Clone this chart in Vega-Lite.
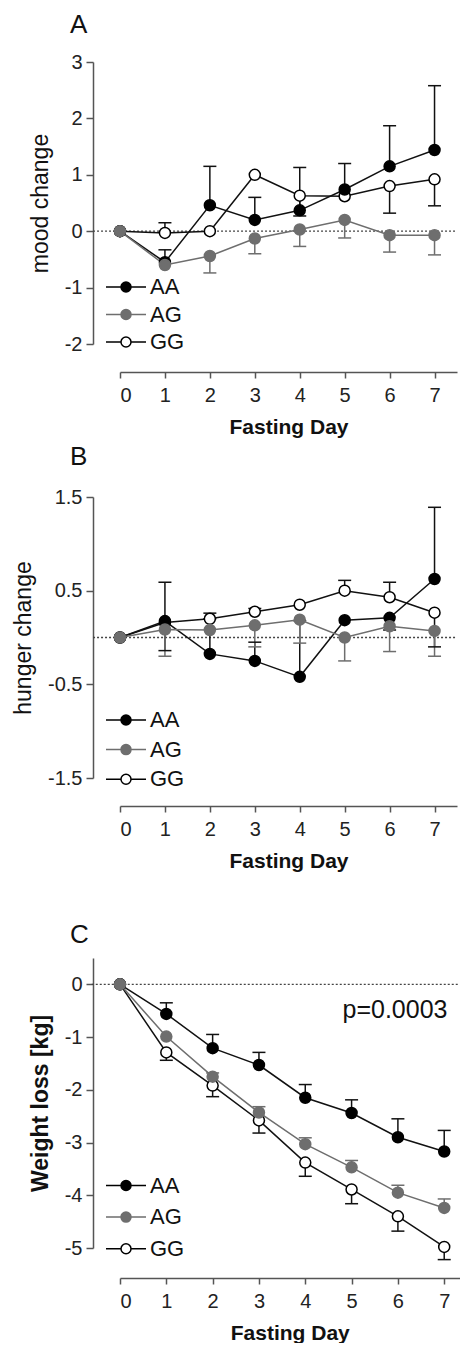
{
"$schema": "https://vega.github.io/schema/vega-lite/v6.json",
"padding": {"left": 12, "top": 12, "right": 0, "bottom": 0},
"spacing": 7,
"config": {
  "font": "Liberation Sans",
  "view": {"stroke": null},
  "axis": {"grid": false, "domainColor": "#555", "tickColor": "#555", "domainWidth": 1.5, "tickWidth": 1.5, "labelColor": "#222", "titleColor": "#111", "labelFontSize": 20, "titleFontSize": 21, "labelFontWeight": "normal"},
  "axisY": {"offset": 27, "tickSize": 7, "labelPadding": 4, "titlePadding": 12, "titleFontSize": 23, "labelExpr": "replace(format(datum.value, '.1~f'), '\u2212', '-')"},
  "axisX": {"tickSize": 6, "labelPadding": 7, "titlePadding": 11, "titleFontWeight": "bold"},
  "title": {"fontSize": 26, "fontWeight": "normal", "anchor": "start", "frame": "group", "dx": -50, "color": "#111"}
},
"resolve": {"scale": {"fill": "independent", "stroke": "independent", "color": "independent", "x": "independent", "y": "independent"}},
"datasets": {
  "pts": [
    {"panel":"A","g":"GG","day":0,"v":0},{"panel":"A","g":"GG","day":1,"v":-0.03},{"panel":"A","g":"GG","day":2,"v":0},{"panel":"A","g":"GG","day":3,"v":1.0},{"panel":"A","g":"GG","day":4,"v":0.63},{"panel":"A","g":"GG","day":5,"v":0.62},{"panel":"A","g":"GG","day":6,"v":0.8},{"panel":"A","g":"GG","day":7,"v":0.92},
    {"panel":"A","g":"AA","day":0,"v":0},{"panel":"A","g":"AA","day":1,"v":-0.55},{"panel":"A","g":"AA","day":2,"v":0.46},{"panel":"A","g":"AA","day":3,"v":0.2},{"panel":"A","g":"AA","day":4,"v":0.37},{"panel":"A","g":"AA","day":5,"v":0.74},{"panel":"A","g":"AA","day":6,"v":1.15},{"panel":"A","g":"AA","day":7,"v":1.44},
    {"panel":"A","g":"AG","day":0,"v":0},{"panel":"A","g":"AG","day":1,"v":-0.6},{"panel":"A","g":"AG","day":2,"v":-0.44},{"panel":"A","g":"AG","day":3,"v":-0.13},{"panel":"A","g":"AG","day":4,"v":0.03},{"panel":"A","g":"AG","day":5,"v":0.2},{"panel":"A","g":"AG","day":6,"v":-0.07},{"panel":"A","g":"AG","day":7,"v":-0.07},
    {"panel":"B","g":"GG","day":0,"v":0},{"panel":"B","g":"GG","day":1,"v":0.16},{"panel":"B","g":"GG","day":2,"v":0.2},{"panel":"B","g":"GG","day":3,"v":0.275},{"panel":"B","g":"GG","day":4,"v":0.35},{"panel":"B","g":"GG","day":5,"v":0.5},{"panel":"B","g":"GG","day":6,"v":0.43},{"panel":"B","g":"GG","day":7,"v":0.265},
    {"panel":"B","g":"AA","day":0,"v":0},{"panel":"B","g":"AA","day":1,"v":0.175},{"panel":"B","g":"AA","day":2,"v":-0.175},{"panel":"B","g":"AA","day":3,"v":-0.25},{"panel":"B","g":"AA","day":4,"v":-0.42},{"panel":"B","g":"AA","day":5,"v":0.185},{"panel":"B","g":"AA","day":6,"v":0.21},{"panel":"B","g":"AA","day":7,"v":0.625},
    {"panel":"B","g":"AG","day":0,"v":0},{"panel":"B","g":"AG","day":1,"v":0.085},{"panel":"B","g":"AG","day":2,"v":0.08},{"panel":"B","g":"AG","day":3,"v":0.13},{"panel":"B","g":"AG","day":4,"v":0.19},{"panel":"B","g":"AG","day":5,"v":0},{"panel":"B","g":"AG","day":6,"v":0.12},{"panel":"B","g":"AG","day":7,"v":0.07},
    {"panel":"C","g":"GG","day":0,"v":0},{"panel":"C","g":"GG","day":1,"v":-1.29},{"panel":"C","g":"GG","day":2,"v":-1.92},{"panel":"C","g":"GG","day":3,"v":-2.58},{"panel":"C","g":"GG","day":4,"v":-3.38},{"panel":"C","g":"GG","day":5,"v":-3.89},{"panel":"C","g":"GG","day":6,"v":-4.4},{"panel":"C","g":"GG","day":7,"v":-4.98},
    {"panel":"C","g":"AA","day":0,"v":0},{"panel":"C","g":"AA","day":1,"v":-0.56},{"panel":"C","g":"AA","day":2,"v":-1.21},{"panel":"C","g":"AA","day":3,"v":-1.53},{"panel":"C","g":"AA","day":4,"v":-2.15},{"panel":"C","g":"AA","day":5,"v":-2.44},{"panel":"C","g":"AA","day":6,"v":-2.9},{"panel":"C","g":"AA","day":7,"v":-3.17},
    {"panel":"C","g":"AG","day":0,"v":0},{"panel":"C","g":"AG","day":1,"v":-0.99},{"panel":"C","g":"AG","day":2,"v":-1.75},{"panel":"C","g":"AG","day":3,"v":-2.43},{"panel":"C","g":"AG","day":4,"v":-3.03},{"panel":"C","g":"AG","day":5,"v":-3.47},{"panel":"C","g":"AG","day":6,"v":-3.95},{"panel":"C","g":"AG","day":7,"v":-4.24}
  ],
  "err": [
    {"panel":"A","g":"AA","day":1,"v":-0.55,"e":-0.33},{"panel":"A","g":"AA","day":2,"v":0.46,"e":1.15},{"panel":"A","g":"AA","day":3,"v":0.2,"e":0.6},{"panel":"A","g":"AA","day":4,"v":0.37,"e":1.13},{"panel":"A","g":"AA","day":5,"v":0.74,"e":1.2},{"panel":"A","g":"AA","day":6,"v":1.15,"e":1.87},{"panel":"A","g":"AA","day":7,"v":1.44,"e":2.58},
    {"panel":"A","g":"GG","day":1,"v":-0.03,"e":0.15},{"panel":"A","g":"GG","day":4,"v":0.63,"e":0.27},{"panel":"A","g":"GG","day":6,"v":0.8,"e":0.32},{"panel":"A","g":"GG","day":7,"v":0.92,"e":0.45},
    {"panel":"A","g":"AG","day":2,"v":-0.44,"e":-0.74},{"panel":"A","g":"AG","day":3,"v":-0.13,"e":-0.4},{"panel":"A","g":"AG","day":4,"v":0.03,"e":-0.27},{"panel":"A","g":"AG","day":5,"v":0.2,"e":-0.12},{"panel":"A","g":"AG","day":6,"v":-0.07,"e":-0.37},{"panel":"A","g":"AG","day":7,"v":-0.07,"e":-0.42},
    {"panel":"B","g":"AA","day":1,"v":0.175,"e":0.59},{"panel":"B","g":"AA","day":2,"v":-0.175,"e":0.2},{"panel":"B","g":"AA","day":3,"v":-0.25,"e":-0.05},{"panel":"B","g":"AA","day":4,"v":-0.42,"e":0.18},{"panel":"B","g":"AA","day":6,"v":0.21,"e":0.08},{"panel":"B","g":"AA","day":7,"v":0.625,"e":1.39},
    {"panel":"B","g":"GG","day":1,"v":0.16,"e":-0.14},{"panel":"B","g":"GG","day":2,"v":0.2,"e":0.26},{"panel":"B","g":"GG","day":3,"v":0.275,"e":0.31},{"panel":"B","g":"GG","day":5,"v":0.5,"e":0.61},{"panel":"B","g":"GG","day":6,"v":0.43,"e":0.59},{"panel":"B","g":"GG","day":7,"v":0.265,"e":-0.1},
    {"panel":"B","g":"AG","day":1,"v":0.085,"e":-0.2},{"panel":"B","g":"AG","day":3,"v":0.13,"e":-0.1},{"panel":"B","g":"AG","day":4,"v":0.19,"e":-0.06},{"panel":"B","g":"AG","day":5,"v":0,"e":-0.25},{"panel":"B","g":"AG","day":6,"v":0.12,"e":-0.15},{"panel":"B","g":"AG","day":7,"v":0.07,"e":-0.2},
    {"panel":"C","g":"AA","day":1,"v":-0.56,"e":-0.35},{"panel":"C","g":"AA","day":2,"v":-1.21,"e":-0.95},{"panel":"C","g":"AA","day":3,"v":-1.53,"e":-1.29},{"panel":"C","g":"AA","day":4,"v":-2.15,"e":-1.9},{"panel":"C","g":"AA","day":5,"v":-2.44,"e":-2.19},{"panel":"C","g":"AA","day":6,"v":-2.9,"e":-2.55},{"panel":"C","g":"AA","day":7,"v":-3.17,"e":-2.77},
    {"panel":"C","g":"AG","day":2,"v":-1.75,"e":-1.68},{"panel":"C","g":"AG","day":3,"v":-2.43,"e":-2.32},{"panel":"C","g":"AG","day":4,"v":-3.03,"e":-2.91},{"panel":"C","g":"AG","day":5,"v":-3.47,"e":-3.34},{"panel":"C","g":"AG","day":6,"v":-3.95,"e":-3.81},{"panel":"C","g":"AG","day":7,"v":-4.24,"e":-4.07},
    {"panel":"C","g":"GG","day":1,"v":-1.29,"e":-1.44},{"panel":"C","g":"GG","day":2,"v":-1.92,"e":-2.13},{"panel":"C","g":"GG","day":3,"v":-2.58,"e":-2.82},{"panel":"C","g":"GG","day":4,"v":-3.38,"e":-3.64},{"panel":"C","g":"GG","day":5,"v":-3.89,"e":-4.16},{"panel":"C","g":"GG","day":6,"v":-4.4,"e":-4.68},{"panel":"C","g":"GG","day":7,"v":-4.98,"e":-5.22}
  ],
  "zero": [
    {"panel":"A","day":-0.6,"day2":7.5,"v":0},
    {"panel":"B","day":-0.6,"day2":7.5,"v":0},
    {"panel":"C","day":-0.61,"day2":7.33,"v":0}
  ],
  "ptxt": [
    {"panel":"C","day":7.07,"v":-0.64,"label":"p=0.0003"}
  ]
},
"vconcat": [
  {
    "width": 337, "height": 282,
    "title": {"text": "A", "offset": 14},
    "encoding": {
      "x": {"field": "day", "type": "quantitative", "scale": {"domain": [0, 7.5], "nice": false, "zero": false}, "axis": {"title": "Fasting Day", "values": [0,1,2,3,4,5,6,7], "offset": 28}},
      "y": {"field": "v", "type": "quantitative", "scale": {"domain": [-2, 3], "nice": false}, "axis": {"title": "mood change", "values": [-2,-1,0,1,2,3], "titleFontWeight": "normal"}}
    },
    "layer": [
      {"data": {"name": "zero"}, "transform": [{"filter": "datum.panel === 'A'"}], "mark": {"type": "rule", "strokeDash": [2, 2], "color": "#444", "strokeWidth": 1.3}, "encoding": {"x2": {"field": "day2"}}},
      {"data": {"name": "err"}, "transform": [{"filter": "datum.panel === 'A'"}], "mark": {"type": "rule", "strokeWidth": 1.5}, "encoding": {"y2": {"field": "e"}, "color": {"field": "g", "type": "nominal", "scale": {"domain": ["GG","AG","AA"], "range": ["#111","#6e6e6e","#111"]}, "legend": null}}},
      {"data": {"name": "err"}, "transform": [{"filter": "datum.panel === 'A'"}], "mark": {"type": "tick", "orient": "horizontal", "size": 13, "thickness": 1.5, "opacity": 1}, "encoding": {"y": {"field": "e", "type": "quantitative", "scale": {"domain": [-2, 3], "nice": false}, "axis": {"title": "mood change", "values": [-2,-1,0,1,2,3], "titleFontWeight": "normal"}}, "color": {"field": "g", "type": "nominal", "scale": {"domain": ["GG","AG","AA"], "range": ["#111","#6e6e6e","#111"]}, "legend": null}}},
      {"data": {"name": "pts"}, "transform": [{"filter": "datum.panel === 'A'"}], "mark": {"type": "line", "strokeWidth": 1.5}, "encoding": {"color": {"field": "g", "type": "nominal", "scale": {"domain": ["GG","AG","AA"], "range": ["#111","#6e6e6e","#111"]}, "legend": null}}},
      {"data": {"name": "pts"}, "transform": [{"filter": "datum.panel === 'A'"}], "mark": {"type": "point", "filled": true, "size": 121, "strokeWidth": 1.5, "opacity": 1},
       "encoding": {
         "fill": {"field": "g", "type": "nominal", "scale": {"domain": ["AA","AG","GG"], "range": ["#000","#6e6e6e","#fff"]}, "legend": {"title": null, "orient": "none", "legendX": -5, "legendY": 214, "rowPadding": 5.5, "labelFontSize": 22, "labelColor": "#111", "labelOffset": 13, "symbolSize": 100, "symbolStrokeWidth": 1.5, "symbolType": "M-4,0L-1,0M1,0L4,0M-1,0C-1,-0.552,-0.552,-1,0,-1C0.552,-1,1,-0.552,1,0C1,0.552,0.552,1,0,1C-0.552,1,-1,0.552,-1,0Z"}},
         "stroke": {"field": "g", "type": "nominal", "scale": {"domain": ["AA","AG","GG"], "range": ["#000","#6e6e6e","#000"]}, "legend": {"title": null, "orient": "none", "legendX": -5, "legendY": 214, "rowPadding": 5.5, "labelFontSize": 22, "labelColor": "#111", "labelOffset": 13, "symbolSize": 100, "symbolStrokeWidth": 1.5, "symbolType": "M-4,0L-1,0M1,0L4,0M-1,0C-1,-0.552,-0.552,-1,0,-1C0.552,-1,1,-0.552,1,0C1,0.552,0.552,1,0,1C-0.552,1,-1,0.552,-1,0Z"}}
       }}
    ]
  },
  {
    "width": 337, "height": 281,
    "title": {"text": "B", "offset": 17},
    "encoding": {
      "x": {"field": "day", "type": "quantitative", "scale": {"domain": [0, 7.5], "nice": false, "zero": false}, "axis": {"title": ["Fasting Day", ""], "titleLineHeight": 44, "values": [0,1,2,3,4,5,6,7], "offset": 28}},
      "y": {"field": "v", "type": "quantitative", "scale": {"domain": [-1.5, 1.5], "nice": false}, "axis": {"title": "hunger change", "values": [-1.5,-0.5,0.5,1.5], "titleFontWeight": "normal"}}
    },
    "layer": [
      {"data": {"name": "zero"}, "transform": [{"filter": "datum.panel === 'B'"}], "mark": {"type": "rule", "strokeDash": [2, 2], "color": "#444", "strokeWidth": 1.3}, "encoding": {"x2": {"field": "day2"}}},
      {"data": {"name": "err"}, "transform": [{"filter": "datum.panel === 'B'"}], "mark": {"type": "rule", "strokeWidth": 1.5}, "encoding": {"y2": {"field": "e"}, "color": {"field": "g", "type": "nominal", "scale": {"domain": ["GG","AG","AA"], "range": ["#111","#6e6e6e","#111"]}, "legend": null}}},
      {"data": {"name": "err"}, "transform": [{"filter": "datum.panel === 'B'"}], "mark": {"type": "tick", "orient": "horizontal", "size": 13, "thickness": 1.5, "opacity": 1}, "encoding": {"y": {"field": "e", "type": "quantitative", "scale": {"domain": [-1.5, 1.5], "nice": false}, "axis": {"title": "hunger change", "values": [-1.5,-0.5,0.5,1.5], "titleFontWeight": "normal"}}, "color": {"field": "g", "type": "nominal", "scale": {"domain": ["GG","AG","AA"], "range": ["#111","#6e6e6e","#111"]}, "legend": null}}},
      {"data": {"name": "pts"}, "transform": [{"filter": "datum.panel === 'B'"}], "mark": {"type": "line", "strokeWidth": 1.5}, "encoding": {"color": {"field": "g", "type": "nominal", "scale": {"domain": ["GG","AG","AA"], "range": ["#111","#6e6e6e","#111"]}, "legend": null}}},
      {"data": {"name": "pts"}, "transform": [{"filter": "datum.panel === 'B'"}], "mark": {"type": "point", "filled": true, "size": 121, "strokeWidth": 1.5, "opacity": 1},
       "encoding": {
         "fill": {"field": "g", "type": "nominal", "scale": {"domain": ["AA","AG","GG"], "range": ["#000","#6e6e6e","#fff"]}, "legend": {"title": null, "orient": "none", "legendX": -5, "legendY": 212, "rowPadding": 7.6, "labelFontSize": 22, "labelColor": "#111", "labelOffset": 13, "symbolSize": 100, "symbolStrokeWidth": 1.5, "symbolType": "M-4,0L-1,0M1,0L4,0M-1,0C-1,-0.552,-0.552,-1,0,-1C0.552,-1,1,-0.552,1,0C1,0.552,0.552,1,0,1C-0.552,1,-1,0.552,-1,0Z"}},
         "stroke": {"field": "g", "type": "nominal", "scale": {"domain": ["AA","AG","GG"], "range": ["#000","#6e6e6e","#000"]}, "legend": {"title": null, "orient": "none", "legendX": -5, "legendY": 212, "rowPadding": 7.6, "labelFontSize": 22, "labelColor": "#111", "labelOffset": 13, "symbolSize": 100, "symbolStrokeWidth": 1.5, "symbolType": "M-4,0L-1,0M1,0L4,0M-1,0C-1,-0.552,-0.552,-1,0,-1C0.552,-1,1,-0.552,1,0C1,0.552,0.552,1,0,1C-0.552,1,-1,0.552,-1,0Z"}}
       }}
    ]
  },
  {
    "width": 339.5, "height": 290,
    "title": {"text": "C", "offset": 10},
    "encoding": {
      "x": {"field": "day", "type": "quantitative", "scale": {"domain": [0, 7.33], "nice": false, "zero": false}, "axis": {"title": "Fasting Day", "values": [0,1,2,3,4,5,6,7], "offset": 30}},
      "y": {"field": "v", "type": "quantitative", "scale": {"domain": [-5, 0.5], "nice": false}, "axis": {"title": "Weight loss [kg]", "values": [-5,-4,-3,-2,-1,0], "titleFontWeight": "bold"}}
    },
    "layer": [
      {"data": {"name": "zero"}, "transform": [{"filter": "datum.panel === 'C'"}], "mark": {"type": "rule", "strokeDash": [2, 2], "color": "#444", "strokeWidth": 1.3}, "encoding": {"x2": {"field": "day2"}}},
      {"data": {"name": "err"}, "transform": [{"filter": "datum.panel === 'C'"}], "mark": {"type": "rule", "strokeWidth": 1.5}, "encoding": {"y2": {"field": "e"}, "color": {"field": "g", "type": "nominal", "scale": {"domain": ["GG","AG","AA"], "range": ["#111","#6e6e6e","#111"]}, "legend": null}}},
      {"data": {"name": "err"}, "transform": [{"filter": "datum.panel === 'C'"}], "mark": {"type": "tick", "orient": "horizontal", "size": 13, "thickness": 1.5, "opacity": 1}, "encoding": {"y": {"field": "e", "type": "quantitative", "scale": {"domain": [-5, 0.5], "nice": false}, "axis": {"title": "Weight loss [kg]", "values": [-5,-4,-3,-2,-1,0], "titleFontWeight": "bold"}}, "color": {"field": "g", "type": "nominal", "scale": {"domain": ["GG","AG","AA"], "range": ["#111","#6e6e6e","#111"]}, "legend": null}}},
      {"data": {"name": "pts"}, "transform": [{"filter": "datum.panel === 'C'"}], "mark": {"type": "line", "strokeWidth": 1.5}, "encoding": {"color": {"field": "g", "type": "nominal", "scale": {"domain": ["GG","AG","AA"], "range": ["#111","#6e6e6e","#111"]}, "legend": null}}},
      {"data": {"name": "ptxt"}, "mark": {"type": "text", "align": "right", "baseline": "alphabetic", "fontSize": 25, "color": "#111"}, "encoding": {"text": {"field": "label"}}},
      {"data": {"name": "pts"}, "transform": [{"filter": "datum.panel === 'C'"}], "mark": {"type": "point", "filled": true, "size": 121, "strokeWidth": 1.5, "opacity": 1},
       "encoding": {
         "fill": {"field": "g", "type": "nominal", "scale": {"domain": ["AA","AG","GG"], "range": ["#000","#6e6e6e","#fff"]}, "legend": {"title": null, "orient": "none", "legendX": -5, "legendY": 216.5, "rowPadding": 9.6, "labelFontSize": 22, "labelColor": "#111", "labelOffset": 13, "symbolSize": 100, "symbolStrokeWidth": 1.5, "symbolType": "M-4,0L-1,0M1,0L4,0M-1,0C-1,-0.552,-0.552,-1,0,-1C0.552,-1,1,-0.552,1,0C1,0.552,0.552,1,0,1C-0.552,1,-1,0.552,-1,0Z"}},
         "stroke": {"field": "g", "type": "nominal", "scale": {"domain": ["AA","AG","GG"], "range": ["#000","#6e6e6e","#000"]}, "legend": {"title": null, "orient": "none", "legendX": -5, "legendY": 216.5, "rowPadding": 9.6, "labelFontSize": 22, "labelColor": "#111", "labelOffset": 13, "symbolSize": 100, "symbolStrokeWidth": 1.5, "symbolType": "M-4,0L-1,0M1,0L4,0M-1,0C-1,-0.552,-0.552,-1,0,-1C0.552,-1,1,-0.552,1,0C1,0.552,0.552,1,0,1C-0.552,1,-1,0.552,-1,0Z"}}
       }}
    ]
  }
]
}
